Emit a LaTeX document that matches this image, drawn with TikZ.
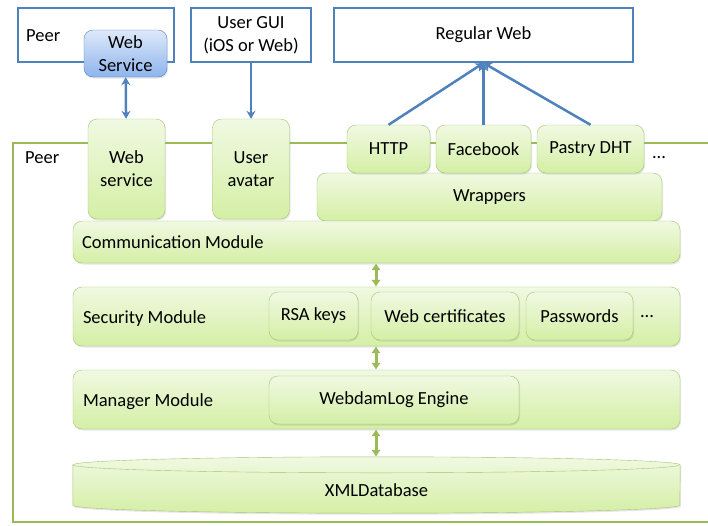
\documentclass[tikz,border=0pt]{standalone}
\usepackage{fontspec}
\setmainfont{Carlito}
\usetikzlibrary{arrows.meta, positioning, calc, shadows}
\definecolor{peerline}{HTML}{9BBB59}
\definecolor{modtop}{HTML}{F0F9E2}
\definecolor{modbot}{HTML}{D4EFA5}
\definecolor{modline}{HTML}{A3C46F}
\definecolor{extline}{HTML}{4F81BD}
\definecolor{svctop}{HTML}{DEE9F9}
\definecolor{svcbot}{HTML}{8DB4EC}
\tikzset{
    module box/.style={
        draw=modline,thin,rounded corners=9pt,
        top color=modtop,bottom color=modbot,
        drop shadow={opacity=0.2,shadow xshift=1pt,shadow yshift=-1.5pt},
        inner sep=0pt,align=center,
        font=\fontsize{18.5}{23}\selectfont
    },
    ext box/.style={
        draw=extline,line width=2pt,fill=white,
        inner sep=0pt,align=center,
        font=\fontsize{18.5}{23}\selectfont
    },
    plain text/.style={inner sep=0pt,font=\fontsize{18.5}{23}\selectfont},
    ext link/.style={draw=extline,line width=2.5pt,-{Stealth[length=8pt,width=9pt]}},
    layer link/.style={draw=peerline,line width=3pt,{Latex[length=7pt,width=10pt]}-{Latex[length=7pt,width=10pt]}},
}

\begin{document}
\begin{tikzpicture}[x=1pt,y=-1pt]
    \useasboundingbox (0,0) rectangle (708,525);
    % outside world
    \node[ext box,minimum width=156pt,minimum height=54pt] (peerout) at (96,35) {};
    \node[plain text,anchor=west] (peerouttxt) at ([xshift=9pt,yshift=-1pt]peerout.west) {Peer};
    \node[module box,draw=extline,top color=svctop,bottom color=svcbot,
        minimum width=83pt,minimum height=47pt] (websvcout) at (125.5,53.5) {Web\\Service};
    \node[ext box,minimum width=120pt,minimum height=54pt] (gui) at (251,35) {User GUI\\(iOS or Web)};
    \node[ext box,minimum width=299pt,minimum height=54pt] (regweb) at (483.5,35) {Regular Web};

    % the peer itself
    \draw[peerline,line width=2.5pt] (708,143) -- (13,143) -- (13,522) -- (708,522);
    \node[plain text,anchor=west] (peertxt) at (25,158) {Peer};

    \node[module box,minimum width=77pt,minimum height=100pt] (websvc) at (126.5,169) {Web\\service};
    \node[module box,minimum width=77pt,minimum height=100pt] (avatar) at (251,169) {User\\avatar};
    \node[module box,minimum width=345pt,minimum height=48pt] (wrappers) at (489.5,197) {Wrappers};
    \node[module box,minimum width=83pt,minimum height=48pt] (http) at (388.5,149) {HTTP};
    \node[module box,minimum width=95pt,minimum height=48pt] (facebook) at (483.5,149) {Facebook};
    \node[module box,minimum width=107pt,minimum height=48pt] (pastry) at (590.5,149) {Pastry DHT};
    \node[plain text] (moreproto) at (659,158) {...};

    \node[module box,minimum width=607pt,minimum height=42pt] (comm) at (376.5,242) {};
    \node[plain text,anchor=west] (commtxt) at ([xshift=9pt]comm.west) {Communication Module};

    \node[module box,minimum width=607pt,minimum height=59pt] (security) at (376.5,316.5) {};
    \node[plain text,anchor=west] (securitytxt) at ([xshift=10pt,yshift=-2pt]security.west) {Security Module};
    \node[module box,minimum width=89pt,minimum height=48pt] (rsa) at (313.5,316) {RSA keys};
    \node[module box,minimum width=148pt,minimum height=48pt] (certs) at (445,316) {Web certificates};
    \node[module box,minimum width=107pt,minimum height=48pt] (passwords) at (579.5,316) {Passwords};
    \node[plain text] (moresec) at (647,317) {...};

    \node[module box,minimum width=607pt,minimum height=59pt] (manager) at (376.5,399.5) {};
    \node[plain text,anchor=west] (managertxt) at ([xshift=10pt,yshift=-2pt]manager.west) {Manager Module};
    \node[module box,minimum width=250pt,minimum height=48pt] (engine) at (394,400) {WebdamLog Engine};

    % database cylinder
    \node[minimum width=607pt,minimum height=56pt] (db) at (376.5,485) {};
    \path[draw=modline,thin,top color=modtop,bottom color=modbot,
        drop shadow={opacity=0.2,shadow xshift=1pt,shadow yshift=-1.5pt}]
        ($(db.north west)+(0,8)$) -- ($(db.south west)+(0,-8)$)
        arc[start angle=180,end angle=360,x radius=303.5pt,y radius=8pt]
        -- ($(db.north east)+(0,8)$)
        arc[start angle=0,end angle=180,x radius=303.5pt,y radius=8pt] -- cycle;
    \draw[modline,thin] ($(db.north west)+(0,8)$)
        arc[start angle=180,end angle=360,x radius=303.5pt,y radius=8pt];
    \node[plain text] (dbtxt) at ([yshift=-5pt]db.center) {XMLDatabase};

    % links
    \draw[ext link,{Stealth[length=8pt,width=9pt]}-{Stealth[length=8pt,width=9pt]}] (websvcout) -- (websvc);
    \draw[ext link] (gui) -- (avatar);
    \draw[ext link] (http.north) -- (regweb.south);
    \draw[ext link] (facebook.north) -- (regweb.south);
    \draw[ext link] (pastry.north) -- (regweb.south);
    \coordinate (a1) at (376,262);
    \draw[layer link] (comm.south -| a1) -- (security.north -| a1);
    \draw[layer link] (security.south -| a1) -- (manager.north -| a1);
    \draw[layer link] (manager.south -| a1) -- (db.north -| a1);
\end{tikzpicture}
\end{document}
